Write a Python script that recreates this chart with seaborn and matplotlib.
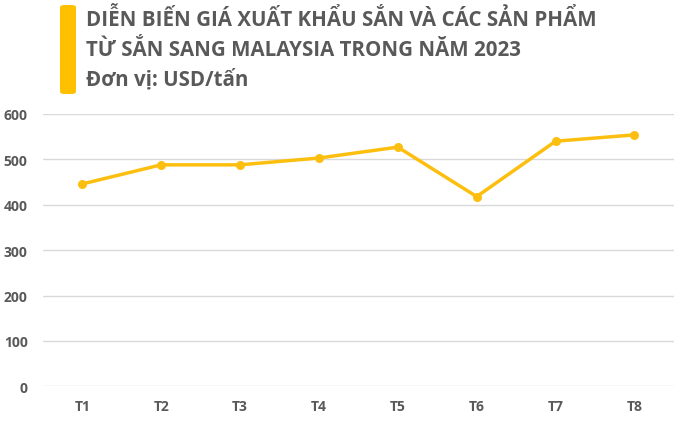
import matplotlib
matplotlib.use("Agg")
import matplotlib.pyplot as plt
import seaborn as sns
import pandas as pd
from matplotlib.patches import FancyBboxPatch

months = ["T1", "T2", "T3", "T4", "T5", "T6", "T7", "T8"]
prices = [446, 488, 488, 503, 527, 418, 540, 554]
yticks = [0, 100, 200, 300, 400, 500, 600]
title_lines = ["DIỄN BIẾN GIÁ XUẤT KHẨU SẮN VÀ CÁC SẢN PHẨM",
               "TỪ SẮN SANG MALAYSIA TRONG NĂM 2023",
               "Đơn vị: USD/tấn"]

sns.set_theme(style="white")
plt.rcParams['font.family'] = ['Open Sans', 'DejaVu Sans']

df = pd.DataFrame({"month": months, "price": prices})

fig = plt.figure(figsize=(6.89, 4.27), dpi=100)
ax = fig.add_axes([0.0624, 0.093, 0.9156, 0.6377])

line_color = "#FDBF0F"
sns.lineplot(data=df, x="month", y="price", ax=ax, color=line_color,
             linewidth=2.5, marker="o", markersize=6.5, markeredgewidth=0,
             sort=False)

ax.set_xlim(-0.5, len(months) - 0.5)
ax.set_ylim(0, 600)
ax.set_yticks(yticks)
ax.set_yticklabels([str(v) for v in yticks])
ax.yaxis.grid(True, color="#D9D9D9", linewidth=1)
ax.set_axisbelow(True)
for s in ax.spines.values():
    s.set_visible(False)
ax.set_xlabel("")
ax.set_ylabel("")
ax.tick_params(axis="both", length=0, labelsize=10, labelcolor="#595959")
ax.tick_params(axis="x", pad=9)
ax.tick_params(axis="y", pad=11)
for lab in ax.get_xticklabels() + ax.get_yticklabels():
    lab.set_fontweight("bold")

# title bar
bar = FancyBboxPatch((60 / 689, 1 - 95 / 427), 16 / 689, 89 / 427,
                     boxstyle="round,pad=0,rounding_size=0.006",
                     transform=fig.transFigure, facecolor="#FFC000",
                     edgecolor="none")
fig.patches.append(bar)

ys = [20, 50, 80]
for t, y in zip(title_lines, ys):
    fig.text(86 / 689, 1 - y / 427, t, fontsize=14.8, fontweight="bold",
             color="#595959", va="center", ha="left")

fig.savefig("out.png", dpi=100)
